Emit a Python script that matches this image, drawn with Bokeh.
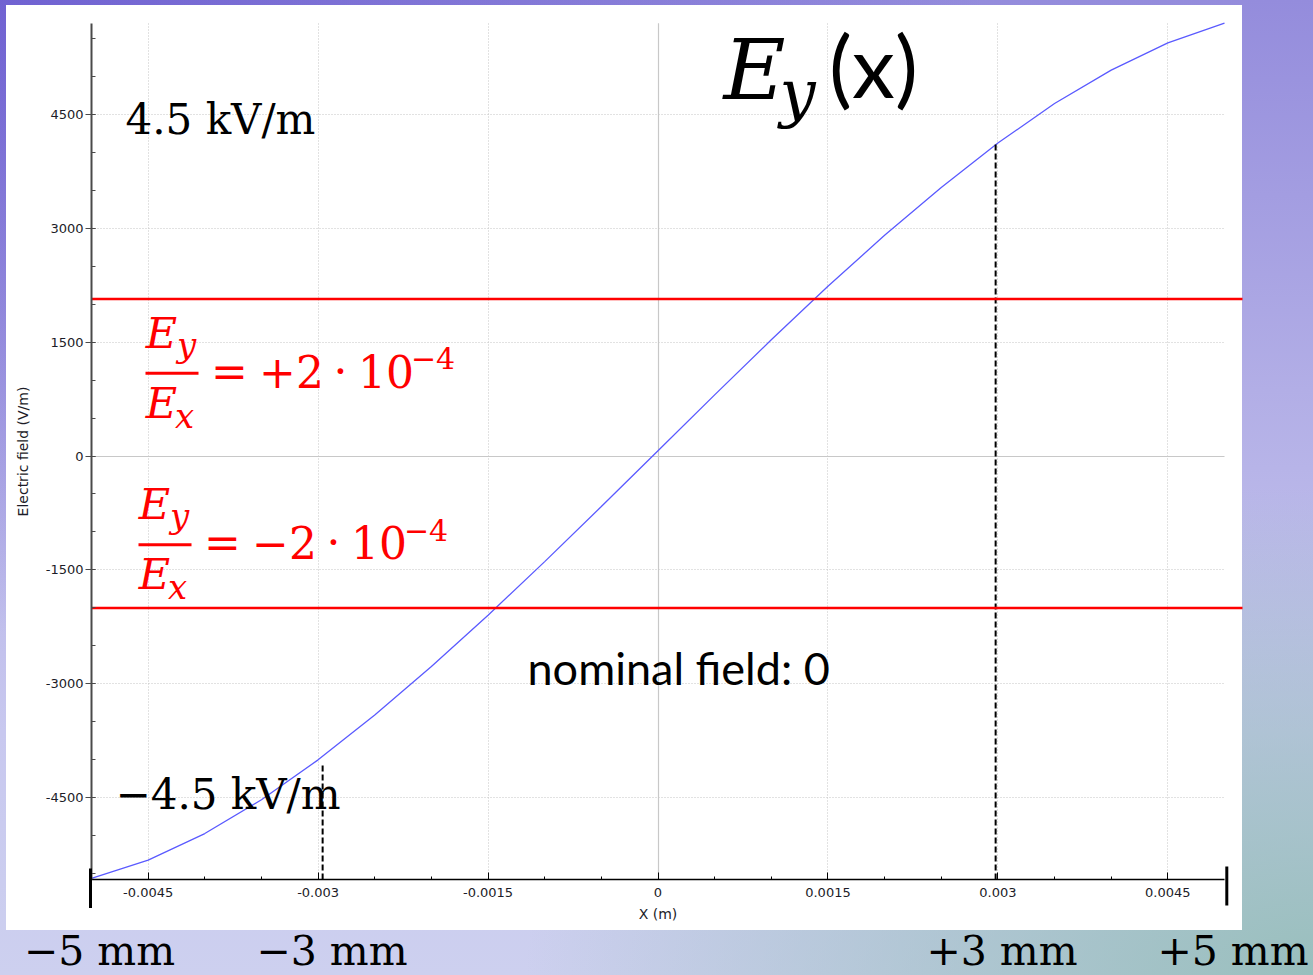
from bokeh.plotting import figure
from bokeh.models import (Range1d, SingleIntervalTicker, FixedTicker, CustomJSTickFormatter,
                          Grid, Label, BoxAnnotation)
from bokeh.embed import file_html
from bokeh.resources import INLINE

# ---------------- data ----------------
x_m = [-0.005, -0.0045, -0.004, -0.0035, -0.003, -0.0025, -0.002, -0.0015, -0.001,
       -0.0005, 0.0, 0.0005, 0.001, 0.0015, 0.002, 0.0025, 0.003, 0.0035, 0.004,
       0.0045, 0.005]
ey_vm = [-5560, -5320, -4970, -4525, -4000, -3410, -2770, -2095, -1390, -665, 70,
         805, 1530, 2235, 2905, 3535, 4120, 4640, 5080, 5440, 5700]
limit_ratio = [2e-4, -2e-4]          # Ey/Ex limits
limit_field = [2067, -2000]          # V/m where the limits are drawn
marker_x = [-0.00296, 0.00298]       # dashed markers (m)
marker_top = [-4050, 4110]           # V/m
mm_labels = ["\u22125 mm", "\u22123 mm", "+3 mm", "+5 mm"]
x_lim = (-0.005, 0.005)
y_lim = (-5575, 5694)
x_tick_step = 0.0015
y_tick_step = 1500

# ---------------- layout constants (pixels) ----------------
W, H = 1313, 975
PX_XMIN, PY_YMAX, PY_YMIN = 91, 23, 879
PXX = 113300.0                                   # px per metre
PXY = (PY_YMIN - PY_YMAX) / (y_lim[1] - y_lim[0])  # px per V/m
XC0 = x_lim[0] - PX_XMIN / PXX
XC1 = XC0 + W / PXX
YC1 = y_lim[1] + PY_YMAX / PXY
YC0 = YC1 - H / PXY


def dx(px):
    return XC0 + px / PXX


def dy(py):
    return YC1 - py / PXY


BG = ("linear-gradient(#ffffff, #ffffff) 6px 5px / 1236px 925px no-repeat, "
      "radial-gradient(ellipse 60% 50% at 100% 100%, rgba(150,190,186,0.95) 0%, "
      "rgba(150,190,186,0.55) 45%, rgba(150,190,186,0) 100%), "
      "radial-gradient(ellipse 75% 65% at 0% 0%, rgba(100,84,206,0.75) 0%, "
      "rgba(100,84,206,0) 100%), "
      "linear-gradient(180deg, #948cdc 0%, #b2aee6 40%, #c8c8ef 75%, #cdd0ef 100%)")

p = figure(width=W, height=H, output_backend="svg", toolbar_location=None, title=None,
           x_range=Range1d(XC0, XC1), y_range=Range1d(YC0, YC1),
           min_border=0, min_border_left=0, min_border_right=0, min_border_top=0,
           min_border_bottom=0, background_fill_color=None,
           border_fill_color=None, outline_line_color=None,
           styles={"background": BG})

# ticks, grids and axes
xt = SingleIntervalTicker(interval=x_tick_step, num_minor_ticks=3)
yt = SingleIntervalTicker(interval=y_tick_step, num_minor_ticks=3)
p.xaxis.ticker = xt
p.yaxis.ticker = yt
p.xgrid.ticker = xt
p.ygrid.ticker = yt
for g in (p.xgrid[0], p.ygrid[0]):
    g.grid_line_color = "#c4c4c4"
    g.grid_line_dash = "1 2"
    g.grid_line_width = 1
p.xgrid[0].cross_bounds = y_lim
p.ygrid[0].cross_bounds = x_lim

# solid zero lines
p.add_layout(Grid(dimension=0, ticker=FixedTicker(ticks=[0]), cross_bounds=y_lim,
                  grid_line_color="#c8c8c8", grid_line_width=1.2))
p.add_layout(Grid(dimension=1, ticker=FixedTicker(ticks=[0]), cross_bounds=x_lim,
                  grid_line_color="#c8c8c8", grid_line_width=1.2))

p.xaxis.formatter = CustomJSTickFormatter(code="return String(Math.round(tick*1e7)/1e7);")
p.yaxis.formatter = CustomJSTickFormatter(code="return String(Math.round(tick));")
p.xaxis.axis_label = "X (m)"
p.yaxis.axis_label = "Electric field (V/m)"
for ax in (p.xaxis[0], p.yaxis[0]):
    ax.major_label_text_font = "DejaVu Sans"
    ax.major_label_text_font_size = "13px"
    ax.major_label_text_color = "#1c1c28"
    ax.axis_label_text_font = "DejaVu Sans"
    ax.axis_label_text_font_size = "14px"
    ax.axis_label_text_font_style = "normal"
    ax.axis_label_text_color = "#1c1c28"

xa = p.xaxis[0]
xa.fixed_location = y_lim[0]
xa.bounds = x_lim
xa.axis_line_color = "black"
xa.axis_line_width = 1.5
xa.major_tick_line_color = "black"
xa.minor_tick_line_color = "black"
xa.major_tick_in = 7
xa.major_tick_out = 0
xa.minor_tick_in = 3
xa.minor_tick_out = 0
xa.major_label_standoff = 8
xa.axis_label_standoff = 6

ya = p.yaxis[0]
ya.fixed_location = x_lim[0]
ya.bounds = y_lim
ya.axis_line_color = "#4a4a4a"
ya.axis_line_width = 2
ya.major_tick_line_color = "#4a4a4a"
ya.minor_tick_line_color = "#4a4a4a"
ya.major_tick_in = 4
ya.major_tick_out = 6
ya.minor_tick_in = 4
ya.minor_tick_out = 0
ya.major_label_standoff = 2
ya.axis_label_standoff = 12

# curve
p.line(x_m, ey_vm, line_color="#5a5aff", line_width=1.3)

# dashed markers
p.segment(x0=marker_x, y0=[y_lim[0]] * len(marker_x), x1=marker_x, y1=marker_top,
          line_color="black", line_width=2, line_dash="6 3")

# limit lines (reach the edge of the white panel)
RED = "#ff0000"
p.segment(x0=[x_lim[0]] * len(limit_field), x1=[dx(1242)] * len(limit_field),
          y0=limit_field, y1=limit_field, line_color=RED, line_width=2.5)

SERIF = "DejaVu Serif"
BASE_K = {SERIF: 0.37, "Lato": 0.42}


def lab(text, px, py, font, size, color="black", style="normal", align="left"):
    yy = py - BASE_K.get(font, 0.37) * size
    p.add_layout(Label(x=dx(px), y=dy(yy), text=text, text_font=font,
                       text_font_size=f"{size}px", text_font_style=style,
                       text_color=color, text_align=align,
                       text_baseline="alphabetic"))


def box(l, r, t, b, color):
    p.add_layout(BoxAnnotation(left=dx(l), right=dx(r), top=dy(t), bottom=dy(b),
                               fill_color=color, fill_alpha=1.0, line_alpha=0.0))


# title E_y(x)
lab("E", 754, 100, SERIF, 85, "black", "italic", "center")
lab("y", 797, 116, SERIF, 64, "black", "italic", "center")
lab("(x)", 873, 100, "Lato", 86, "black", "normal", "center")

# field annotations
lab("4.5 kV/m", 125, 135, SERIF, 42)
lab("\u22124.5 kV/m", 115, 810, SERIF, 42)
lab("nominal field: 0", 527, 686, "Lato", 45)


def ratio_expr(r, ox, oy):
    sign = "+" if r > 0 else "\u2212"
    exp = -4
    mant = abs(r) / 10 ** exp
    lab("E", 161 + ox, 348 + oy, SERIF, 43, RED, "italic", "center")
    lab("y", 186 + ox, 357 + oy, SERIF, 34, RED, "italic", "center")
    box(145 + ox, 198 + ox, 371.2 + oy, 374.2 + oy, RED)
    lab("E", 161 + ox, 418 + oy, SERIF, 43, RED, "italic", "center")
    lab("x", 184 + ox, 428 + oy, SERIF, 34, RED, "italic", "center")
    lab("=", 229 + ox, 387 + oy, SERIF, 44, RED, "normal", "center")
    lab(sign, 277 + ox, 387 + oy, SERIF, 44, RED, "normal", "center")
    lab(f"{mant:.0f}", 309.5 + ox, 387 + oy, SERIF, 44, RED, "normal", "center")
    lab("\u00b7", 340 + ox, 387 + oy, SERIF, 44, RED, "normal", "center")
    lab("10", 385.5 + ox, 387 + oy, SERIF, 44, RED, "normal", "center")
    lab(f"\u2212{abs(exp)}", 432.5 + ox, 369 + oy, SERIF, 30, RED, "normal", "center")


ratio_expr(limit_ratio[0], 0, 0)
ratio_expr(limit_ratio[1], -7, 171.5)

# marker bars at +-5 mm
box(88.5, 91.5, 868, 907.5, "black")
box(1224.8, 1227.8, 866, 905, "black")

# bottom mm labels
mm_label_px = [99, 331.5, 1001.5, 1232.5]
for t, cx in zip(mm_labels, mm_label_px):
    lab(t, cx, 966, SERIF, 41, "black", "normal", "center")

open("out.html", "w").write(file_html(p, INLINE))
